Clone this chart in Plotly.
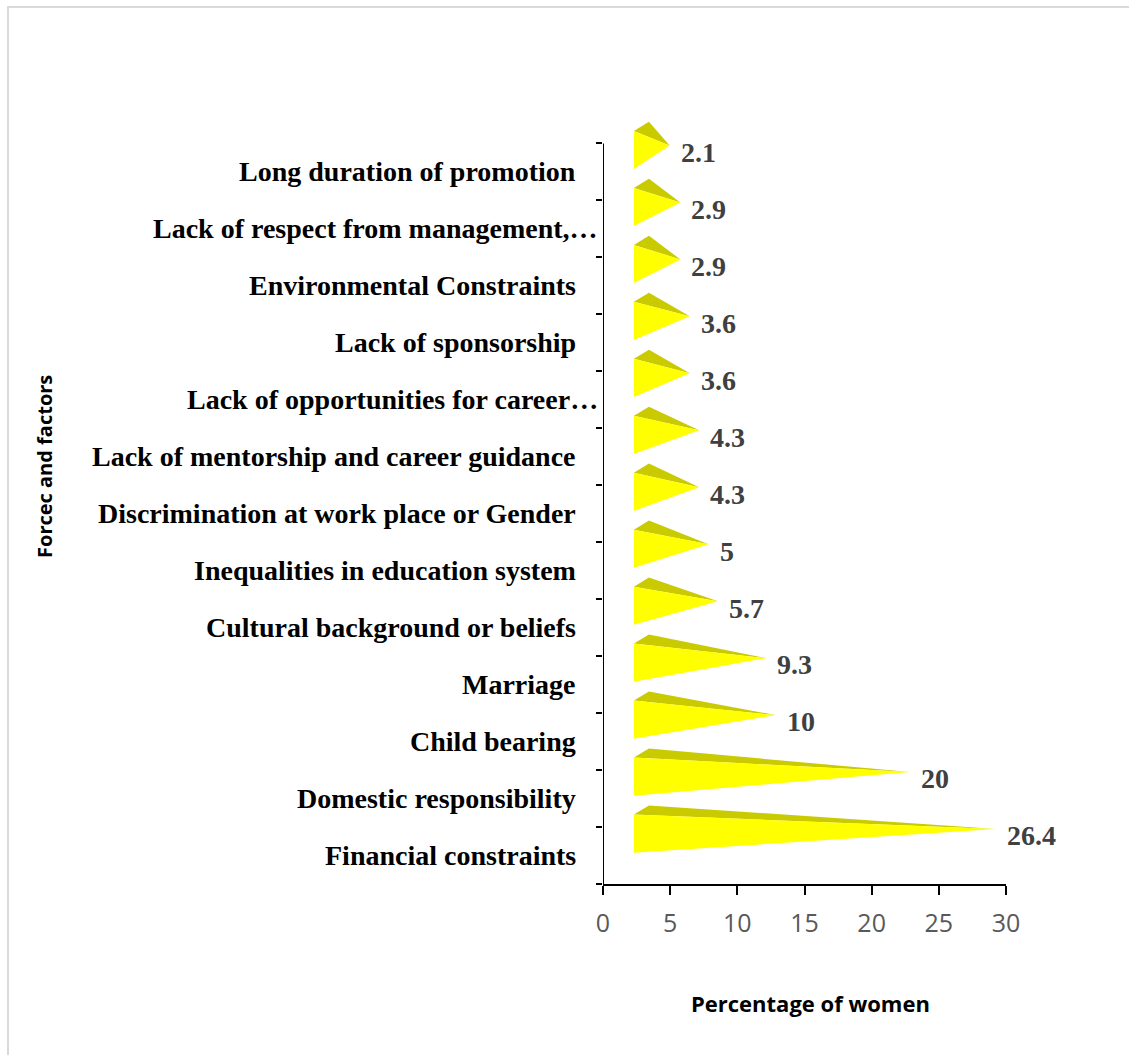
import plotly.graph_objects as go

# Factors, listed bottom to top as they appear on the axis
factors = [
    "Financial constraints",
    "Domestic responsibility",
    "Child bearing",
    "Marriage",
    "Cultural background or beliefs",
    "Inequalities in education system",
    "Discrimination at work place or Gender",
    "Lack of mentorship and career guidance",
    "Lack of opportunities for career…",
    "Lack of sponsorship",
    "Environmental Constraints",
    "Lack of respect from management,…",
    "Long duration of promotion",
]
percent_women = [26.4, 20, 10, 9.3, 5.7, 5, 4.3, 4.3, 3.6, 3.6, 2.9, 2.9, 2.1]
value_labels = ["26.4", "20", "10", "9.3", "5.7", "5", "4.3", "4.3", "3.6", "3.6", "2.9", "2.9", "2.1"]
x_ticks = [0, 5, 10, 15, 20, 25, 30]

# Pyramid geometry (3-D look): base face position and depth offsets in axis units
BASE_X = 2.3
DEPTH_X = 1.12
DEPTH_Y = 0.16
FACE_BOT = 0.55
FACE_TOP = 1.22

FRONT = "#FFFF00"
SIDE = "#CACA00"
SERIF = "Liberation Serif"
SANS = "Open Sans"

fig = go.Figure()

for i, v in enumerate(percent_women):
    y_bot = i + FACE_BOT
    y_top = i + FACE_TOP
    tip_x = BASE_X + v + DEPTH_X / 2
    tip_y = (y_bot + y_top) / 2 + DEPTH_Y / 2
    # top (shaded) face
    fig.add_trace(go.Scatter(
        x=[BASE_X, BASE_X + DEPTH_X, tip_x, BASE_X],
        y=[y_top, y_top + DEPTH_Y, tip_y, y_top],
        mode="lines", fill="toself", fillcolor=SIDE,
        line=dict(width=0, color=SIDE), hoverinfo="skip", showlegend=False,
    ))
    # front face
    fig.add_trace(go.Scatter(
        x=[BASE_X, BASE_X, tip_x, BASE_X],
        y=[y_top, y_bot, tip_y, y_top],
        mode="lines", fill="toself", fillcolor=FRONT,
        line=dict(width=0, color=FRONT), hoverinfo="skip", showlegend=False,
        name=factors[i],
    ))
    # value label at the tip
    fig.add_annotation(
        x=tip_x, y=tip_y - 0.12, xref="x", yref="y",
        text=value_labels[i], showarrow=False, xanchor="left", yanchor="middle",
        xshift=9, font=dict(family=SERIF, size=28, color="#404040", weight="bold"),
    )

# category labels centred in each band
for i, name in enumerate(factors):
    shift = -3 if name.endswith("…") else -25
    fig.add_annotation(
        x=0, y=i + 0.5, xref="x", yref="y", text=name, showarrow=False,
        xanchor="right", yanchor="middle", xshift=shift,
        font=dict(family=SERIF, size=28, color="#000000", weight="bold"),
    )

# axis titles
fig.add_annotation(
    x=0.516, y=-0.1547, xref="paper", yref="paper", text="Percentage of women",
    showarrow=False, xanchor="center", yanchor="middle",
    font=dict(family=SANS, size=22, color="#000000", weight="bold"),
)
fig.add_annotation(
    x=-1.3846, y=0.5423, xref="paper", yref="paper", text="Forcec and factors",
    showarrow=False, textangle=-90, xanchor="center", yanchor="middle",
    font=dict(family=SANS, size=20, color="#000000", weight="bold"),
)

# vertical axis line (limited to the category bands)
fig.add_shape(type="line", xref="x", yref="y", x0=0, x1=0, y0=0, y1=len(factors),
              line=dict(color="#000000", width=2))
# outer chart frame
fig.add_shape(type="rect", xref="paper", yref="paper",
              x0=-1.4764, x1=1.3325, y0=-0.2419, y1=1.1404,
              line=dict(color="#d9d9d9", width=2), fillcolor="rgba(0,0,0,0)")

fig.update_xaxes(
    range=[0, 30], tickvals=x_ticks, ticktext=[str(t) for t in x_ticks],
    showgrid=False, zeroline=False, showline=True, linecolor="#000000", linewidth=2,
    ticks="outside", ticklen=9, tickwidth=1.5, tickcolor="#000000",
    tickfont=dict(family=SANS, size=25, color="#595959"), ticklabelstandoff=7,
)
fig.update_yaxes(
    range=[0, 13.5], tickvals=list(range(len(factors) + 1)),
    ticktext=[""] * (len(factors) + 1),
    showgrid=False, zeroline=False, showline=False,
    ticks="outside", ticklen=6, tickwidth=1.5, tickcolor="#000000",
)

fig.update_layout(
    width=1129, height=1055,
    margin=dict(l=603, r=123, t=115, b=171, pad=0),
    paper_bgcolor="#ffffff", plot_bgcolor="#ffffff",
    showlegend=False,
)

fig.write_html("out.html")
